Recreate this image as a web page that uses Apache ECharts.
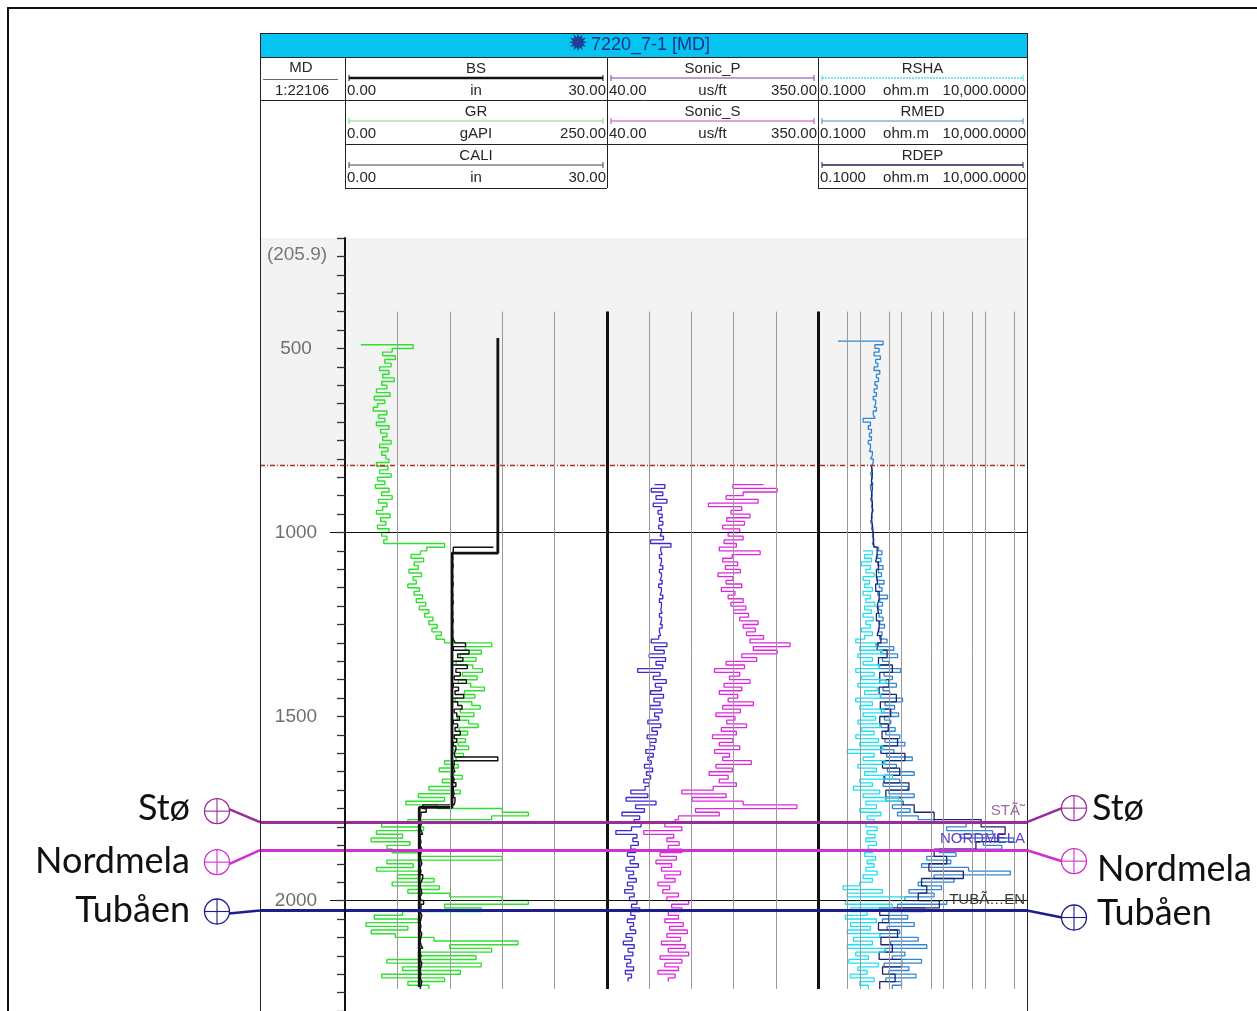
<!DOCTYPE html>
<html>
<head>
<meta charset="utf-8">
<title>7220_7-1 [MD]</title>
<script src="https://cdn.jsdelivr.net/npm/echarts@6/dist/echarts.min.js"></script>
<style>
  html, body { margin: 0; padding: 0; background: #ffffff; }
  #log { width: 1257px; height: 1011px; }
</style>
</head>
<body>
<div id="log"></div>
<script>
// ---------------------------------------------------------------
// Well 7220_7-1, measured depth (m). Composite log display.
// ---------------------------------------------------------------
const WELL = '7220_7-1 [MD]';
const DEPTH_REF = 'MD';
const SCALE_TEXT = '1:22106';
const DEPTH_TOP_LABEL = '(205.9)';
const DEPTH_MIN = 200;
const DEPTH_MAX = 2300;
const DEPTH_TICK = 50;
const DEPTH_LABEL_STEP = 500;
const MAJOR_DEPTHS = [1000, 2000];
const CASING_SHOE = 817;          // shaded interval ends here
const GRID_TOP = 400;             // vertical grid lines span this interval
const GRID_BASE = 2240;

// header texts per track
const T1_CURVES = ['BS', 'GR', 'CALI'];
const T1_UNITS  = ['in', 'gAPI', 'in'];
const T1_LO     = ['0.00', '0.00', '0.00'];
const T1_HI     = ['30.00', '250.00', '30.00'];
const T2_CURVES = ['Sonic_P', 'Sonic_S'];
const T2_UNITS  = ['us/ft', 'us/ft'];
const T2_LO     = ['40.00', '40.00'];
const T2_HI     = ['350.00', '350.00'];
const T3_CURVES = ['RSHA', 'RMED', 'RDEP'];
const T3_UNITS  = ['ohm.m', 'ohm.m', 'ohm.m'];
const T3_LO     = ['0.1000', '0.1000', '0.1000'];
const T3_HI     = ['10,000.0000', '10,000.0000', '10,000.0000'];

// track grid lines (curve units)
const T1_GRID = [6, 12, 18, 24];
const T1_EDGE = 30;
const T2_GRID = [102, 164, 226, 288];
const T2_EDGE = 350;
const T3_GRID = [0.5, 1, 5, 10, 50, 100, 500, 1000, 5000];

// formation tops
const TOP_NAMES  = ['Stø', 'Nordmela', 'Tubåen'];
const TOP_TRACK_LABELS = ['STÃ˜', 'NORDMELA', 'TUBÃ…EN'];
const TOP_DEPTHS = [1787, 1863, 2027];

// bit size: depth breaks and sizes (in)
const BS_DEPTHS = [472, 1056, 1747, 2235];
const BS_SIZES  = [17.5, 12.25, 8.5];

// GR (gAPI), 10 m samples from 490 m
const GR_START = 490, GR_STEP = 10;
const GR = [
  15, 65,
  45, 36, 48, 38, 44, 33, 42, 36, 47, 35, 40, 30, 43, 28, 38, 31, 27, 40, 32, 38, 30, 42, 34, 40, 36, 44, 33, 41, 35, 39, 42,
  30, 41, 33, 44, 31, 38, 29, 42, 35, 45, 32, 40, 36, 30, 43, 34, 39, 31, 42, 35, 40, 37,
  95, 78,
  72, 63, 75, 66, 70, 61, 73, 65, 68, 60, 71, 66, 74, 68, 77, 71, 80, 76, 84, 80, 88, 83, 92, 87,
  95, 140,
  115, 130, 110, 125, 106, 122, 131, 112, 126, 108, 120, 133, 114, 124, 105, 121, 129, 110, 123, 107, 118, 127, 109, 117, 104, 115, 108, 118, 102, 113, 106,
  95, 108, 90, 104, 112, 93, 102, 80, 110, 70, 95, 58, 88,
  150, 175, 140,
  60, 35, 75, 30, 55, 25, 62, 40,
  45, 70, 150, 40, 65, 30, 72, 50, 85, 45, 90, 60, 100,
  150, 175, 95, 130,
  55, 28, 70, 20, 60, 25, 48,
  85, 165, 100, 140, 70, 125,
  40, 130, 55, 110, 35, 95, 60, 80
];

// CALI (in), 10 m samples from 1040 m
const CALI_START = 1040, CALI_STEP = 10;
const CALI = [
  17.0, 12.4,
  12.3, 12.35, 12.3, 12.4, 12.3, 12.3, 12.35, 12.3, 12.4, 12.3, 12.3, 12.35, 12.3, 12.4, 12.3, 12.3, 12.35, 12.3, 12.4, 12.3, 12.3, 12.35, 12.3, 12.4,
  12.6, 13.8, 12.4, 14.2, 12.9, 13.5, 12.3, 14.0, 12.7, 13.2, 12.5, 13.9, 12.4, 13.0, 12.6, 13.6, 12.3, 12.9, 13.4, 12.5, 12.8, 13.1, 12.4, 12.9, 12.6, 13.2, 12.5, 12.8, 12.4, 12.7, 12.5, 12.6,
  17.5, 12.5,
  12.4, 12.6, 12.3, 12.5, 12.4, 12.7, 12.4, 12.5, 12.3, 12.6, 12.5,
  8.9, 9.3,
  8.7, 8.6, 8.8, 8.6, 8.7, 8.9, 8.6, 8.7, 8.6, 8.8, 8.7, 8.6, 8.7, 8.8, 8.6, 8.7, 8.6, 8.9, 8.7, 8.6, 8.7, 8.8, 8.6, 8.7,
  9.0, 8.7, 8.6, 8.8, 8.7, 8.6, 8.7, 8.6, 8.8, 8.7, 8.6, 8.7, 8.9, 8.6, 8.7, 8.6, 8.8, 8.7, 8.6, 8.7, 8.6, 8.8, 8.7, 8.6
];

// Sonic_P (us/ft), 10 m samples from 870 m
const DTP_START = 870, DTP_STEP = 10;
const SONIC_P = [
  110, 125, 105, 122, 112, 128, 108, 120, 115, 121, 117, 122, 116, 120, 118, 123, 104, 134, 119, 121, 117, 120, 118, 122, 117, 120, 118, 121, 116, 120, 118, 122, 117, 120, 119, 121, 117, 120, 118, 121, 117, 119, 116,
  105, 128, 110, 124, 102, 126, 112, 122, 85, 118, 108, 127, 111, 120, 104, 123, 109, 118, 103, 121, 110, 116, 100, 119, 106, 114, 99, 112, 103, 110, 97, 108, 100, 105, 95, 107, 98, 104, 94, 102, 96,
  75, 100, 68, 112, 82, 95, 62, 88,
  80, 90, 76, 53, 84, 78, 86, 75,
  82, 70, 80, 74, 86, 68, 79, 72, 83, 70, 78, 66, 80, 73, 84, 76, 88, 75, 81, 70, 79, 74, 82, 68, 77, 64, 80, 71, 78, 66, 75, 69, 79, 67, 76, 71
];

// Sonic_S (us/ft), 10 m samples from 870 m
const DTS_START = 870, DTS_STEP = 10;
const SONIC_S = [
  270, 225, 290, 240, 215, 262, 189, 238, 222, 250, 216, 242, 210, 235,
  218, 240, 212, 230, 205, 265, 224, 210, 232, 214, 236, 203, 225, 215, 238, 208, 228, 218, 240, 222, 244, 226,
  248, 235, 262, 240, 258, 245, 270, 250, 309, 255, 290, 238,
  260, 215, 242, 198, 235, 220, 250, 212, 238, 205, 232, 218, 255, 210, 236, 200, 228, 216, 245, 208, 230, 195,
  225, 205, 235, 198, 220, 210, 252, 200, 224, 190, 218, 205, 230, 196,
  150, 215, 165, 240, 319, 170, 205, 145,
  140, 125, 150, 94, 138, 128, 146, 130,
  150, 118, 142, 112, 135, 120, 148, 125, 140, 115, 132, 122, 145, 128, 160, 135, 150, 130, 145, 125, 152, 132, 158, 128, 148, 120, 155, 130, 160, 118, 150, 125, 145, 115, 140, 130
];

// RMED (ohm.m), 10 m samples from 480 m
const RMED_START = 480, RMED_STEP = 10;
const RMED = [
  0.3, 3.6, 2.3, 2.9, 2.2, 3.1, 2.4, 2.7, 2.2, 3.0, 2.5, 2.8, 2.3, 2.6, 2.2, 2.5, 2.1, 2.4, 2.2, 2.5, 2.1, 2.3, 1.2, 1.8, 1.6, 1.9, 1.7, 1.9, 1.6, 1.8, 1.7, 2.0, 1.8, 2.1,
  1.9, 2.0, 1.8, 2.0, 1.9, 2.1, 1.8, 1.9, 2.0, 1.8, 2.0, 1.9, 2.1, 1.9, 2.0, 1.8, 2.0, 1.9, 2.1, 2.0, 2.2, 2.0, 2.2,
  2.8, 3.4, 2.6, 3.2, 2.7, 3.6, 2.8, 3.3, 2.6, 3.8, 2.9, 3.4, 2.7, 4.6, 3.0, 3.5, 2.8, 3.3, 2.9, 3.6, 3.0, 3.9, 2.8, 3.4, 3.0,
  4.5, 2.8, 6.5, 3.2, 8.0, 3.5, 5.0, 2.9, 9.5, 3.8, 6.0, 3.0, 7.5, 3.6, 5.2, 3.1, 10.5, 4.0, 6.8, 3.3, 8.5, 3.9, 5.5, 3.2, 7.0, 4.2, 9.0,
  4.0, 12, 3.5, 6.5, 4.4, 18, 3.8, 7.5, 4.6, 20, 4.0, 9.0, 3.6, 14, 5.0, 20, 4.2, 11, 6.0, 16, 8.0, 25,
  60, 350, 120, 1500, 250, 4800, 900, 2500,
  80, 200, 40, 150, 30, 400, 4000, 60, 180, 25, 90, 15, 60,
  12, 120, 8, 35,
  5, 14, 3.5, 20, 4.5, 9, 3, 25, 5.5, 40, 4, 12, 6, 30, 3.8, 15, 5, 22, 4.2, 10, 6
];

// RDEP (ohm.m), 20 m samples from 820 m
const RDEP_START = 820, RDEP_STEP = 20;
const RDEP = [
  1.9, 2.0, 1.9, 2.0, 1.9, 2.0, 2.0, 1.9, 2.0, 2.1, 2.1, 2.2,
  2.6, 2.4, 2.8, 2.5, 2.7, 2.4, 2.9, 2.6, 2.8, 2.5, 2.9, 2.6,
  3.2, 2.6, 4.5, 2.8, 6.0, 3.0, 5.0, 2.9, 7.5, 3.1, 5.5, 3.0, 4.8, 3.4,
  8.0, 3.2, 12, 3.5, 9.0, 3.8, 15, 4.2, 10, 20, 60,
  800, 3000, 2000, 600,
  60, 120, 45, 300, 30, 40,
  25, 80,
  3.0, 5.0, 2.8, 8.0, 3.2, 6.0, 2.9, 10, 3.5, 7.0, 3.0
];

// RSHA (ohm.m), 10 m samples from 1050 m
const RSHA_START = 1050, RSHA_STEP = 10;
const RSHA = [
  1.2, 2.0, 1.3, 1.9, 1.1, 1.8, 1.4, 2.2, 1.2, 1.7, 1.3, 2.0, 1.2, 1.8, 1.4, 2.3, 1.3, 1.9, 1.2, 2.1, 1.4, 1.8, 1.1, 2.0, 1.3,
  0.8, 2.4, 1.0, 3.5, 0.9, 2.0, 1.2, 3.0, 0.8, 2.2, 1.1, 4.2, 0.9, 2.6, 1.3, 3.2, 0.8, 2.0, 1.0, 3.8, 1.2, 2.4, 0.9, 3.0, 1.1, 2.2, 0.8,
  2.8, 1.0, 3.5, 0.5, 2.2, 1.2, 4.0, 0.9, 2.5, 1.3, 6.0, 1.0, 2.0, 0.7, 3.0, 1.2, 8.5, 1.4, 2.5, 1.0, 3.2, 1.5,
  2.2, 1.4, 2.6, 1.5, 2.3, 1.4, 2.5, 1.6,
  2.0, 1.3, 2.4, 1.5, 2.2, 1.4, 2.6, 1.2, 2.0, 1.0, 0.4, 3.5, 0.5,
  12, 0.45, 6.0, 0.6,
  1.5, 0.45, 2.5, 0.6, 1.8, 0.5, 3.0, 0.7, 2.0, 0.5, 4.0, 0.8, 1.6, 0.55, 2.8, 0.9, 1.5, 0.6, 2.2, 1.0, 1.6
];

// ---------------------------------------------------------------
// layout and styling
// ---------------------------------------------------------------
const FONT = '"Liberation Sans", Arial, sans-serif';
const TOP_FONT = 'Lato, "Open Sans", sans-serif';
const X_LEFT = 260, X_T1 = 345, X_T2 = 607, X_T3 = 818, X_RIGHT = 1027;
const PLOT_TOP = 238, PLOT_H = 773;
const HEAD_TOP = 33, HEAD_BAR = 57, HEAD_ROWS = [57, 100, 144, 188];

const COLORS = {
  BS: '#111111', GR: '#2fe02f', CALI: '#111111',
  Sonic_P: '#3c2ad2', Sonic_S: '#e027e0',
  RSHA: '#1ee0f0', RMED: '#2f86d6', RDEP: '#1c2470'
};
const HEAD_LINES = {
  BS: ['#111111', 2.5, null], GR: ['#7fd97f', 1.2, null], CALI: ['#444444', 1, null],
  Sonic_P: ['#7b3fa0', 1.2, null], Sonic_S: ['#c447c4', 1.2, null],
  RSHA: ['#55d8e8', 1.5, [2, 1]], RMED: ['#4b8fc8', 1.2, null], RDEP: ['#25254f', 1.5, null]
};
const TOP_COLORS = ['#9a2b9a', '#d22fd2', '#1d1d8f'];
const TOP_LABEL_COLORS = ['#9c6c9c', '#6c3cc4', '#3a3a3a'];
const TOP_LEFT_DY = [-11, 12, 1];
const TOP_RIGHT_DY = [-14, 11, 7];
const TOP_LEFT_TEXT_DY = [-3, -1, -1];
const TOP_RIGHT_TEXT_DY = [0, 8, -4];
const TOP_RIGHT_TEXT_X = [1092, 1097, 1097];

function samples(start, step, values) {
  return values.map((v, i) => [v, start + i * step]);
}
function bitSizePoints() {
  const pts = [];
  BS_SIZES.forEach((s, i) => { pts.push([s, BS_DEPTHS[i]]); pts.push([s, BS_DEPTHS[i + 1]]); });
  return pts;
}

const chart = echarts.init(document.getElementById('log'), null, { renderer: 'canvas' });

function grid(left, width) {
  return { left, width, top: PLOT_TOP, height: PLOT_H, show: false, containLabel: false, outerBoundsMode: 'none' };
}
function depthAxis(gridIndex, visible) {
  return {
    type: 'value', gridIndex, inverse: true, min: DEPTH_MIN, max: DEPTH_MAX, interval: DEPTH_TICK,
    show: visible, z: 10,
    axisLine: { show: true, onZero: false, lineStyle: { color: '#111', width: 2 } },
    axisTick: { show: true, length: 8, lineStyle: { color: '#333', width: 1.3 } },
    axisLabel: {
      show: true, margin: 49, align: 'center', color: '#6e6e6e', fontSize: 19, fontFamily: FONT,
      formatter: v => (v % DEPTH_LABEL_STEP === 0 && v >= DEPTH_LABEL_STEP) ? String(v) : ''
    },
    splitLine: { show: false }
  };
}
const ML_BASE = {
  silent: true, symbol: ['none', 'none'], label: { show: false }, animation: false,
  emphasis: { disabled: true }
};
function gridSeries(xi, yi, values, edge) {
  const data = values.map(v => [{ coord: [v, GRID_TOP] }, { coord: [v, GRID_BASE] }]);
  if (edge != null) {
    data.push([{ coord: [edge, GRID_TOP], lineStyle: { color: '#111', width: 3 } }, { coord: [edge, GRID_BASE] }]);
  }
  return {
    type: 'line', xAxisIndex: xi, yAxisIndex: yi, data: [], symbol: 'none', z: 2, silent: true, animation: false,
    markLine: Object.assign({}, ML_BASE, { lineStyle: { color: '#999999', width: 1, type: 'solid' }, data })
  };
}
// each sample is held down to the next one (blocky log display)
function curve(name, xi, yi, pts, width) {
  return {
    name, type: 'line', xAxisIndex: xi, yAxisIndex: yi, data: pts, step: 'end',
    symbol: 'none', showSymbol: false, silent: true, animation: false, z: 3,
    lineStyle: { color: COLORS[name], width: width || 1 }
  };
}

const frameSeries = {
  type: 'line', xAxisIndex: 0, yAxisIndex: 0, data: [], symbol: 'none', z: 1, silent: true, animation: false,
  markArea: {
    silent: true, animation: false, emphasis: { disabled: true }, label: { show: false },
    itemStyle: { color: '#f3f3f3' },
    data: [[{ coord: [X_LEFT, DEPTH_MIN] }, { coord: [X_RIGHT, CASING_SHOE] }]]
  },
  markLine: Object.assign({}, ML_BASE, {
    lineStyle: { color: '#111', width: 1, type: 'solid' },
    data: MAJOR_DEPTHS.map(d => [{ coord: [330, d] }, { coord: [X_RIGHT, d] }]).concat([
      [{ coord: [X_LEFT, CASING_SHOE], lineStyle: { color: '#b02a2a', width: 1.4, type: [5, 2, 1, 2] } },
       { coord: [X_RIGHT, CASING_SHOE] }]
    ])
  })
};
const topsSeries = {
  type: 'line', xAxisIndex: 0, yAxisIndex: 0, data: [], symbol: 'none', z: 6, silent: true, animation: false,
  markLine: Object.assign({}, ML_BASE, {
    lineStyle: { width: 3, type: 'solid' },
    data: TOP_DEPTHS.map((d, i) => [
      { coord: [X_LEFT, d], lineStyle: { color: TOP_COLORS[i], width: 3 } },
      { coord: [X_RIGHT, d] }
    ])
  })
};

const bsSeries = curve('BS', 1, 1, bitSizePoints(), 2.8);
bsSeries.step = false;

chart.setOption({
  animation: false,
  backgroundColor: '#ffffff',
  grid: [
    grid(X_LEFT, X_RIGHT - X_LEFT),
    grid(X_T1, X_T2 - X_T1),
    grid(X_T2, X_T3 - X_T2),
    grid(X_T3, X_RIGHT - X_T3)
  ],
  xAxis: [
    { type: 'value', gridIndex: 0, min: X_LEFT, max: X_RIGHT, show: false },
    { type: 'value', gridIndex: 1, min: 0, max: 30, show: false },
    { type: 'value', gridIndex: 1, min: 0, max: 250, show: false },
    { type: 'value', gridIndex: 2, min: 40, max: 350, show: false },
    { type: 'log', gridIndex: 3, min: 0.1, max: 10000, logBase: 10, show: false }
  ],
  yAxis: [depthAxis(0, false), depthAxis(1, true), depthAxis(2, false), depthAxis(3, false)],
  series: [
    frameSeries,
    gridSeries(1, 1, T1_GRID, T1_EDGE),
    gridSeries(3, 2, T2_GRID, T2_EDGE),
    gridSeries(4, 3, T3_GRID, null),
    curve('GR', 2, 1, samples(GR_START, GR_STEP, GR), 1.4),
    curve('CALI', 1, 1, samples(CALI_START, CALI_STEP, CALI), 1.4),
    bsSeries,
    curve('Sonic_P', 3, 2, samples(DTP_START, DTP_STEP, SONIC_P), 1.3),
    curve('Sonic_S', 3, 2, samples(DTS_START, DTS_STEP, SONIC_S), 1.3),
    curve('RMED', 4, 3, samples(RMED_START, RMED_STEP, RMED), 1.3),
    curve('RDEP', 4, 3, samples(RDEP_START, RDEP_STEP, RDEP), 1.3),
    curve('RSHA', 4, 3, samples(RSHA_START, RSHA_STEP, RSHA), 1.3),
    topsSeries
  ]
});

// ---------------------------------------------------------------
// header, frame and formation-top markers (graphic layer)
// ---------------------------------------------------------------
const G = [];
function gLine(x1, y1, x2, y2, stroke, w, dash) {
  G.push({ type: 'line', silent: true, z: 50, shape: { x1, y1, x2, y2 },
    style: { stroke, lineWidth: w || 1, lineDash: dash || null } });
}
function gRect(x, y, w, h, fill, stroke, lw) {
  G.push({ type: 'rect', silent: true, z: 49, shape: { x, y, width: w, height: h },
    style: { fill: fill || 'none', stroke: stroke || null, lineWidth: lw || 1 } });
}
function gText(s, x, y, align, size, color, family) {
  G.push({ type: 'text', silent: true, z: 51, x, y,
    style: { text: s, fill: color || '#262626', font: (size || 15) + 'px ' + (family || FONT),
      textAlign: align || 'center', textVerticalAlign: 'middle' } });
}
function gMarker(cx, cy, color) {
  G.push({ type: 'circle', silent: true, z: 52, shape: { cx, cy, r: 12.5 },
    style: { fill: 'rgba(255,255,255,0.75)', stroke: color, lineWidth: 1.3 } });
  G.push({ type: 'line', silent: true, z: 53, shape: { x1: cx - 12.5, y1: cy, x2: cx + 12.5, y2: cy }, style: { stroke: color, lineWidth: 1.1 } });
  G.push({ type: 'line', silent: true, z: 53, shape: { x1: cx, y1: cy - 12.5, x2: cx, y2: cy + 12.5 }, style: { stroke: color, lineWidth: 1.1 } });
}

// outer frame
gRect(8, 8, 1262, 1020, 'none', '#111', 2);

// title bar
gRect(X_LEFT + 0.5, HEAD_TOP + 0.5, X_RIGHT - X_LEFT, HEAD_BAR - HEAD_TOP, '#06c3f2', '#222', 1);
gText('✹', 578, 45, 'center', 24, '#1f3f95', '"DejaVu Sans", sans-serif');
gText(WELL, 591, 45.5, 'left', 18, '#1c3388');

// header frame lines
gLine(X_LEFT + 0.5, HEAD_TOP, X_LEFT + 0.5, 1011, '#222', 1);
gLine(X_RIGHT + 0.5, HEAD_TOP, X_RIGHT + 0.5, 1011, '#222', 1);
gLine(X_LEFT, HEAD_ROWS[1] + 0.5, X_RIGHT, HEAD_ROWS[1] + 0.5, '#222', 1);
gLine(X_T1, HEAD_ROWS[2] + 0.5, X_RIGHT, HEAD_ROWS[2] + 0.5, '#222', 1);
gLine(X_T1, HEAD_ROWS[3] + 0.5, X_T2, HEAD_ROWS[3] + 0.5, '#222', 1);
gLine(X_T3, HEAD_ROWS[3] + 0.5, X_RIGHT, HEAD_ROWS[3] + 0.5, '#222', 1);
gLine(X_T1 + 0.5, HEAD_BAR, X_T1 + 0.5, HEAD_ROWS[3], '#222', 1);
gLine(X_T2 + 0.5, HEAD_BAR, X_T2 + 0.5, HEAD_ROWS[3], '#222', 1);
gLine(X_T3 + 0.5, HEAD_BAR, X_T3 + 0.5, HEAD_ROWS[3], '#222', 1);

// depth column header
gText(DEPTH_REF, 301, 68, 'center', 15);
gLine(263, 79.5, 338, 79.5, '#666', 1);
gText(SCALE_TEXT, 302, 91, 'center', 15);

function headerCells(x0, x1, names, units, lo, hi, unitX) {
  names.forEach((n, i) => {
    const top = HEAD_ROWS[i];
    const st = HEAD_LINES[n];
    gText(n, (x0 + x1) / 2, top + 11.5, 'center', 15);
    gLine(x0 + 4, top + 21, x1 - 4, top + 21, st[0], st[1], st[2]);
    gLine(x0 + 4, top + 18, x0 + 4, top + 24, st[0], 1);
    gLine(x1 - 4, top + 18, x1 - 4, top + 24, st[0], 1);
    gText(lo[i], x0 + 2, top + 34, 'left', 15);
    gText(units[i], unitX != null ? unitX : (x0 + x1) / 2, top + 34, 'center', 15);
    gText(hi[i], x1 - 1, top + 34, 'right', 15);
  });
}
headerCells(X_T1, X_T2, T1_CURVES, T1_UNITS, T1_LO, T1_HI);
headerCells(X_T2, X_T3, T2_CURVES, T2_UNITS, T2_LO, T2_HI);
headerCells(X_T3, X_RIGHT, T3_CURVES, T3_UNITS, T3_LO, T3_HI, 906);

// label for the first logged depth
gText(DEPTH_TOP_LABEL, 297, 255, 'center', 19, '#777777');

// formation tops: markers, connectors and labels
TOP_NAMES.forEach((name, i) => {
  const y = chart.convertToPixel({ yAxisIndex: 0 }, TOP_DEPTHS[i]);
  const c = TOP_COLORS[i];
  const ly = y + TOP_LEFT_DY[i];
  const ry = y + TOP_RIGHT_DY[i];
  gLine(229, ly + (y > ly ? -2 : y < ly ? 2 : 0), X_LEFT, y, c, 2.6);
  gMarker(217, ly, c);
  gText(name, 190, ly + TOP_LEFT_TEXT_DY[i], 'right', 36, '#111', TOP_FONT);
  gLine(X_RIGHT, y, 1062, ry, c, 2.6);
  gMarker(1074, ry, c);
  gText(name, TOP_RIGHT_TEXT_X[i], ry + TOP_RIGHT_TEXT_DY[i], 'left', 36, '#111', TOP_FONT);
  gText(TOP_TRACK_LABELS[i], X_RIGHT - 2, y - 11, 'right', 15, TOP_LABEL_COLORS[i]);
});

chart.setOption({ graphic: { elements: G } });
</script>
</body>
</html>
